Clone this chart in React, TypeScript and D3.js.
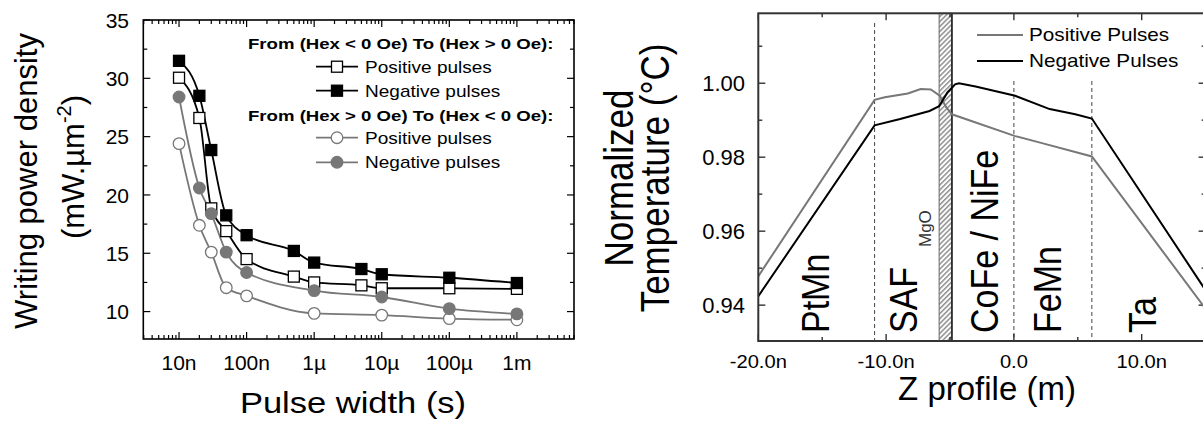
import React from 'react';
import * as d3 from 'd3';

// left panel: writing power density vs pulse width
const pulseA = [1e-8, 2e-8, 3e-8, 5e-8, 1e-7, 5e-7, 1e-6, 5e-6, 1e-5, 1e-4, 1e-3];
const posAtoB = [30.05, 26.6, 18.85, 16.9, 14.5, 13.0, 12.5, 12.25, 12.0, 12.0, 11.95];
const negAtoB = [31.5, 28.5, 23.85, 18.25, 16.55, 15.2, 14.2, 13.65, 13.2, 12.9, 12.45];
const pulseB = [1e-8, 2e-8, 3e-8, 5e-8, 1e-7, 1e-6, 1e-5, 1e-4, 1e-3];
const posBtoA = [24.4, 17.4, 15.1, 12.05, 11.35, 9.85, 9.7, 9.4, 9.3];
const negBtoA = [28.4, 20.6, 18.4, 15.1, 13.35, 11.8, 11.25, 10.25, 9.8];
const pulseTicks = [1e-8, 1e-7, 1e-6, 1e-5, 1e-4, 1e-3];
const pulseLabels = ['10n', '100n', '1µ', '10µ', '100µ', '1m'];
const powerTicks = [10, 15, 20, 25, 30, 35];

// right panel: temperature profile along z (nm)
const zPos = [-20, -10.9, -10.1, -8.3, -7.3, -6.5, -5.8, -5.3, -4.85, 0.1, 2.2, 6.1, 15];
const tPos = [0.9478, 0.9955, 0.9962, 0.9972, 0.9984, 0.9983, 0.9966, 0.9935, 0.9916, 0.9857, 0.9838, 0.9802, 0.939];
const zNeg = [-20, -10.9, -8.9, -6.6, -5.85, -5.2, -4.6, -4.3, -3, 0.1, 2.8, 4.8, 6.1, 15];
const tNeg = [0.9424, 0.9886, 0.9903, 0.9925, 0.9938, 0.9975, 0.9997, 1.0, 0.9991, 0.9966, 0.993, 0.9916, 0.99045, 0.944];
const zTicks = [-20, -10, 0, 10];
const zLabels = ['-20.0n', '-10.0n', '0.0', '10.0n'];
const tempTicks = [0.94, 0.96, 0.98, 1.0];
const boundaries = [-10.9, 0, 6.1];
const mgo = [-5.85, -4.85];
const layers = [
  { name: 'PtMn', z: -14.5 },
  { name: 'SAF', z: -7.6 },
  { name: 'CoFe / NiFe', z: -1.25 },
  { name: 'FeMn', z: 3.7 },
  { name: 'Ta', z: 11.1 },
];

const FONT = 'Liberation Sans, Arial, sans-serif';
const GRAY = '#777';

function LeftPanel() {
  const x = d3.scaleLog().domain([2.96e-9, 7e-3]).range([143.3, 574]);
  const y = d3.scaleLinear().domain([7.65, 35]).range([339, 20]);
  const [x0, x1] = x.range();
  const [y0, y1] = y.range();
  const line = (xs: number[], ys: number[]) =>
    d3.line<number>().x((d, i) => x(xs[i])).y((d) => y(d)).curve(d3.curveMonotoneX)(ys) || '';

  const logTicks = x.ticks();
  const yMinor = d3.range(7.5, 35.01, 2.5).filter((v) => v > 7.65);

  const series = [
    { xs: pulseA, ys: posAtoB, color: '#000', shape: 'square', fill: '#fff' },
    { xs: pulseA, ys: negAtoB, color: '#000', shape: 'square', fill: '#000' },
    { xs: pulseB, ys: posBtoA, color: GRAY, shape: 'circle', fill: '#fff' },
    { xs: pulseB, ys: negBtoA, color: GRAY, shape: 'circle', fill: GRAY },
  ];

  const marker = (shape: string, cx: number, cy: number, stroke: string, fill: string, key: any) =>
    shape === 'square' ? (
      <rect key={key} x={cx - 5.5} y={cy - 5.5} width={11} height={11} fill={fill} stroke={stroke} strokeWidth={1.3} />
    ) : (
      <circle key={key} cx={cx} cy={cy} r={5.8} fill={fill} stroke={stroke} strokeWidth={1.3} />
    );

  const legendRows = [
    { kind: 'head', text: 'From (Hex < 0 Oe) To (Hex > 0 Oe):', y: 43 },
    { kind: 'item', s: 0, text: 'Positive pulses', y: 66.7 },
    { kind: 'item', s: 1, text: 'Negative pulses', y: 90.7 },
    { kind: 'head', text: 'From (Hex > 0 Oe) To (Hex < 0 Oe):', y: 115 },
    { kind: 'item', s: 2, text: 'Positive pulses', y: 137.7 },
    { kind: 'item', s: 3, text: 'Negative pulses', y: 162.3 },
  ];

  return (
    <g>
      {/* ticks */}
      {logTicks.map((t, i) => {
        const major = Math.abs(Math.log10(t) - Math.round(Math.log10(t))) < 1e-6;
        const len = major ? 7 : 4;
        return (
          <g key={'xt' + i} stroke="#000" strokeWidth={1.2}>
            <line x1={x(t)} x2={x(t)} y1={y0} y2={y0 - len} />
            <line x1={x(t)} x2={x(t)} y1={y1} y2={y1 + len} />
          </g>
        );
      })}
      {yMinor.map((v, i) => {
        const len = v % 5 === 0 ? 7 : 4;
        return (
          <g key={'yt' + i} stroke="#000" strokeWidth={1.2}>
            <line x1={x0} x2={x0 + len} y1={y(v)} y2={y(v)} />
            <line x1={x1} x2={x1 - len} y1={y(v)} y2={y(v)} />
          </g>
        );
      })}
      <rect x={x0} y={y1} width={x1 - x0} height={y0 - y1} fill="none" stroke="#000" strokeWidth={1.6} />

      {powerTicks.map((v) => (
        <text key={'yl' + v} x={129} y={y(v)} dy="0.36em" textAnchor="end" fontSize={21}>
          {v}
        </text>
      ))}
      {pulseTicks.map((t, i) => (
        <text key={'xl' + i} x={x(t)} y={362.5} dy="0.36em" textAnchor="middle" fontSize={21}>
          {pulseLabels[i]}
        </text>
      ))}

      {/* curves */}
      {series.map((s, i) => (
        <path key={'c' + i} d={line(s.xs, s.ys)} fill="none" stroke={s.color} strokeWidth={1.8} />
      ))}
      {series.map((s, i) => (
        <g key={'m' + i}>{s.ys.map((v, j) => marker(s.shape, x(s.xs[j]), y(v), s.color, s.fill, j))}</g>
      ))}

      {/* legend */}
      {legendRows.map((r, i) =>
        r.kind === 'head' ? (
          <text key={'lg' + i} transform={`translate(248,${r.y}) scale(1.2,1)`} dy="0.36em" fontSize={15.5} fontWeight="bold">
            {r.text}
          </text>
        ) : (
          <g key={'lg' + i}>
            <line x1={316} x2={358} y1={r.y} y2={r.y} stroke={series[r.s!].color} strokeWidth={1.8} />
            {marker(series[r.s!].shape, 337, r.y, series[r.s!].color, series[r.s!].fill, 'lm')}
            <text transform={`translate(365,${r.y}) scale(1.12,1)`} dy="0.36em" fontSize={17}>
              {r.text}
            </text>
          </g>
        )
      )}

      {/* axis titles */}
      <text transform="translate(37,181) rotate(-90)" textAnchor="middle" fontSize={31}>
        Writing power density
      </text>
      <text transform="translate(84,167) rotate(-90)" textAnchor="middle" fontSize={31}>
        (mW.µm<tspan fontSize={20} dy={-13}>-2</tspan>
        <tspan dy={13}>)</tspan>
      </text>
      <text transform="translate(353,413) scale(1.19,1)" textAnchor="middle" fontSize={29}>
        Pulse width (s)
      </text>
    </g>
  );
}

function RightPanel() {
  const x = d3.scaleLinear().domain([-20, 15]).range([758.3, 1205.6]);
  const y = d3.scaleLinear().domain([0.9303, 1.0189]).range([341, 13.3]);
  const [x0, x1] = x.range();
  const [y0, y1] = y.range();
  const line = (xs: number[], ys: number[]) =>
    d3.line<number>().x((d, i) => x(xs[i])).y((d) => y(d))(ys) || '';

  const xMinor = d3.range(-20, 15.01, 5);
  const yMinor = d3.range(0.93, 1.0189, 0.01).filter((v) => v > 0.9303);

  return (
    <g>
      <defs>
        <pattern id="hatch" patternUnits="userSpaceOnUse" width={3.5} height={3.5} patternTransform="rotate(-45)">
          <rect width={3.5} height={3.5} fill="#fff" />
          <line x1={0} x2={3.5} y1={0.8} y2={0.8} stroke="#555" strokeWidth={1} />
        </pattern>
        <clipPath id="rclip">
          <rect x={x0} y={y1} width={x1 - x0} height={y0 - y1} />
        </clipPath>
      </defs>

      {/* layer boundaries */}
      {boundaries.map((b, i) => (
        <line
          key={'b' + i}
          x1={x(b)}
          x2={x(b)}
          y1={i === 0 ? 23 : 81}
          y2={y0}
          stroke="#444"
          strokeWidth={1}
          strokeDasharray="4,3"
        />
      ))}
      <rect x={x(mgo[0])} y={y1} width={x(mgo[1]) - x(mgo[0])} height={y0 - y1} fill="url(#hatch)" stroke="#666" strokeWidth={1} />
      <line x1={x(mgo[1])} x2={x(mgo[1])} y1={y1} y2={y0} stroke="#222" strokeWidth={1.6} />

      {/* ticks */}
      {xMinor.map((v, i) => {
        const len = v % 10 === 0 ? 7 : 4;
        return (
          <g key={'xt' + i} stroke="#222" strokeWidth={1.3}>
            <line x1={x(v)} x2={x(v)} y1={y0} y2={y0 - len} />
            <line x1={x(v)} x2={x(v)} y1={y1} y2={y1 + len} />
          </g>
        );
      })}
      {yMinor.map((v, i) => {
        const len = Math.round(v * 100) % 2 === 0 ? 7 : 4;
        return (
          <g key={'yt' + i} stroke="#222" strokeWidth={1.3}>
            <line x1={x0} x2={x0 + len} y1={y(v)} y2={y(v)} />
            <line x1={x1} x2={x1 - len} y1={y(v)} y2={y(v)} />
          </g>
        );
      })}

      {/* curves */}
      <g clipPath="url(#rclip)">
        <path d={line(zPos, tPos)} fill="none" stroke={GRAY} strokeWidth={2} />
        <path d={line(zNeg, tNeg)} fill="none" stroke="#000" strokeWidth={2} />
      </g>

      <rect x={x0} y={y1} width={x1 - x0} height={y0 - y1} fill="none" stroke="#333" strokeWidth={2} />

      {/* layer names */}
      {layers.map((l) => (
        <text key={l.name} transform={`translate(${x(l.z)},333) scale(1.12,1) rotate(-90)`} fontSize={34}>
          {l.name}
        </text>
      ))}
      <text transform={`translate(931,247) rotate(-90)`} fontSize={17} fill="#333">
        MgO
      </text>

      {/* legend */}
      {[
        { t: 'Positive Pulses', c: GRAY, y: 35 },
        { t: 'Negative Pulses', c: '#000', y: 61 },
      ].map((r) => (
        <g key={r.t}>
          <line x1={977} x2={1023} y1={r.y} y2={r.y} stroke={r.c} strokeWidth={2} />
          <text transform={`translate(1029,${r.y}) scale(1.15,1)`} dy="0.36em" fontSize={18}>
            {r.t}
          </text>
        </g>
      ))}

      {tempTicks.map((v) => (
        <text key={'yl' + v} x={745} y={y(v)} dy="0.36em" textAnchor="end" fontSize={22}>
          {v.toFixed(2)}
        </text>
      ))}
      {zTicks.map((v, i) => (
        <text key={'xl' + i} transform={`translate(${x(v)},362) scale(1.12,1)`} dy="0.36em" textAnchor="middle" fontSize={18}>
          {zLabels[i]}
        </text>
      ))}

      <text transform="translate(633,178) scale(1.15,1) rotate(-90)" textAnchor="middle" fontSize={35}>
        Normalized
      </text>
      <text transform="translate(669,178) scale(1.15,1) rotate(-90)" textAnchor="middle" fontSize={35}>
        Temperature (°C)
      </text>
      <text x={987} y={400} textAnchor="middle" fontSize={33}>
        Z profile (m)
      </text>
    </g>
  );
}

export default function App() {
  return (
    <svg
      width={1203}
      height={426}
      style={{ position: 'absolute', left: 0, top: 0, background: '#fff' }}
      fontFamily={FONT}
    >
      <rect width={1203} height={426} fill="#fff" />
      <LeftPanel />
      <RightPanel />
    </svg>
  );
}
